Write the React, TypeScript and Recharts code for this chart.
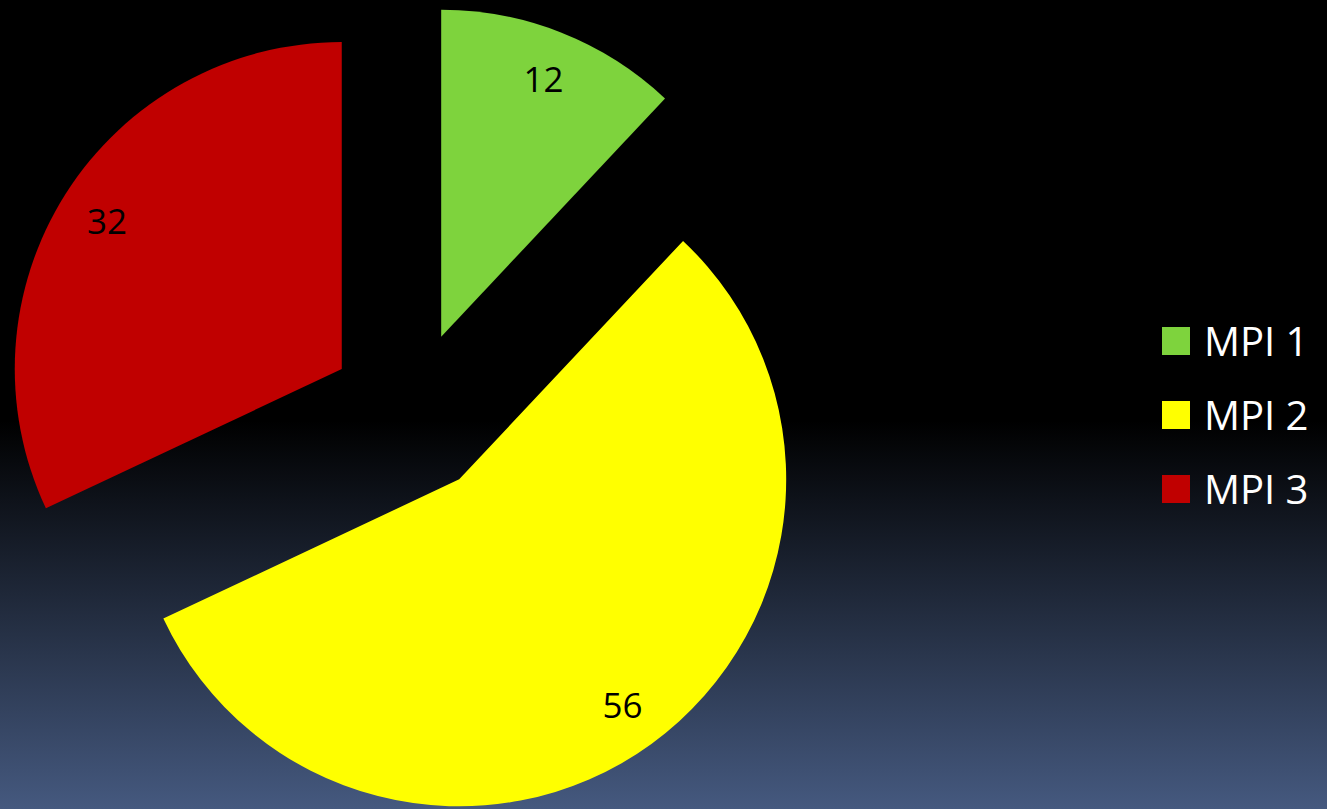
import * as React from "react"
import { PieChart, Pie, Cell, Legend } from "recharts"

const categories = ["MPI 1", "MPI 2", "MPI 3"]
const values = [12, 56, 32]
const colors = ["#7ED33D", "#FFFF00", "#C00000"]

const WIDTH = 1327
const HEIGHT = 809
const CENTER_X = 411
const CENTER_Y = 413
const RADIUS = 327
const EXPLODE = 82
const FONT = "'Open Sans', 'Noto Sans', sans-serif"

const total = values.reduce((a, b) => a + b, 0)

// one Pie per slice so each one can be pushed out along its own mid angle
const slices = values.map((value, i) => {
  const before = values.slice(0, i).reduce((a, b) => a + b, 0)
  const startAngle = 90 - (360 * before) / total
  const endAngle = 90 - (360 * (before + value)) / total
  const mid = ((startAngle + endAngle) / 2) * (Math.PI / 180)
  return {
    name: categories[i],
    value,
    color: colors[i],
    startAngle,
    endAngle,
    cx: CENTER_X + EXPLODE * Math.cos(mid),
    cy: CENTER_Y - EXPLODE * Math.sin(mid),
  }
})

const renderLabel = (props: any) => {
  const { cx, cy, midAngle, outerRadius, value } = props
  const r = outerRadius * 0.85
  const rad = (midAngle * Math.PI) / 180
  return (
    <text
      x={cx + r * Math.cos(rad)}
      y={cy - r * Math.sin(rad)}
      fill="#000"
      fontSize={35}
      fontFamily={FONT}
      textAnchor="middle"
      dominantBaseline="central"
    >
      {value}
    </text>
  )
}

const renderLegend = () => (
  <div>
    {categories.map((name, i) => (
      <div key={name} style={{ display: "flex", alignItems: "center", height: 74 }}>
        <div style={{ width: 28, height: 28, background: colors[i], marginRight: 14 }} />
        <span style={{ color: "#fff", fontSize: 40, fontFamily: FONT, lineHeight: "40px" }}>{name}</span>
      </div>
    ))}
  </div>
)

export default function App() {
  return (
    <div
      style={{
        position: "absolute",
        left: 0,
        top: 0,
        width: WIDTH,
        height: HEIGHT,
        background: "linear-gradient(to bottom, #000000 0%, #000000 52%, #45597f 100%)",
      }}
    >
      <PieChart width={WIDTH} height={HEIGHT} margin={{ top: 0, right: 0, bottom: 0, left: 0 }}>
        {slices.map((s) => (
          <Pie
            key={s.name}
            data={[{ name: s.name, value: s.value }]}
            dataKey="value"
            nameKey="name"
            cx={s.cx}
            cy={s.cy}
            outerRadius={RADIUS}
            startAngle={s.startAngle}
            endAngle={s.endAngle}
            stroke="none"
            labelLine={false}
            label={renderLabel}
            isAnimationActive={false}
          >
            <Cell fill={s.color} />
          </Pie>
        ))}
        <Legend
          content={renderLegend}
          layout="vertical"
          align="right"
          verticalAlign="top"
          wrapperStyle={{ left: 1162, top: 304, width: 165 }}
        />
      </PieChart>
    </div>
  )
}
